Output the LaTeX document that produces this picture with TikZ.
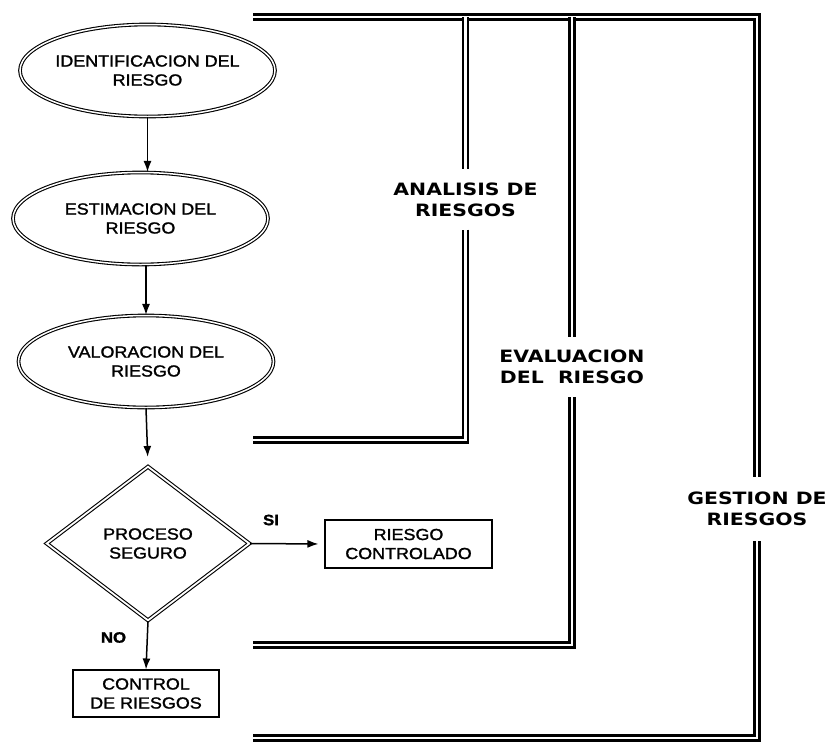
\documentclass[tikz,border=0pt]{standalone}
\usepackage{fontspec}
\setmainfont{Liberation Sans}[FakeStretch=1.12,FakeBold=1.5]
\newfontfamily\labelfont{DejaVu Sans}[FakeStretch=1.2]
\usetikzlibrary{arrows.meta,shapes.geometric}

\begin{document}
\begin{tikzpicture}[x=1pt,y=1pt]
    \tikzstyle{base}=[font=\fontsize{16}{19}\selectfont, align=center, text=black]
    \tikzstyle{oval}=[style=base, draw, ellipse, double, double distance=1.5pt, line width=1.1pt, minimum width=255pt, minimum height=92pt, inner xsep=-10pt, inner ysep=0pt]
    \tikzstyle{choice}=[style=base, draw, diamond, double, double distance=1.8pt, line width=1.1pt, minimum width=203pt, minimum height=154pt, inner sep=0pt]
    \tikzstyle{rectbox}=[style=base, draw, rectangle, line width=1.1pt, inner sep=0pt]
    \tikzstyle{answer}=[font=\fontsize{15}{18}\selectfont\bfseries]
    \tikzstyle{flow}=[draw, line width=1.5pt, -{Latex[length=11pt,width=8pt]}]
    \tikzstyle{phase}=[font=\labelfont\bfseries\fontsize{17}{21}\selectfont, align=center, inner xsep=0pt, inner ysep=13pt]
    \tikzstyle{phasebar}=[draw, double, double distance=2.2pt, line width=2.6pt]

    \useasboundingbox (0,0) rectangle (830,-742);

    % flujo
    \node[oval] (ident) at (147.5,-70.5) {IDENTIFICACION DEL\\RIESGO};
    \node[oval] (estim) at (140.5,-218.5) {ESTIMACION DEL\\RIESGO};
    \node[oval] (valor) at (146,-361.5)  {VALORACION DEL\\RIESGO};
    \node[choice] (proc) at (148,-543.5) {PROCESO\\SEGURO};
    \node[rectbox, minimum width=167pt, minimum height=48pt] (contr) at (408.5,-544) {RIESGO\\CONTROLADO};
    \node[rectbox, minimum width=146pt, minimum height=47pt] (ctrl) at (146,-693.5) {CONTROL\\DE RIESGOS};
    \node[answer] (si) at (271,-520) {SI};
    \node[answer] (no) at (113.5,-637.5) {NO};

    \draw[flow] (ident.south) -- (ident.south |- estim.north);
    \draw[flow] (valor.north |- estim.south) -- (valor.north);
    \draw[flow, shorten >=9pt] (valor.south) -- (proc.north);
    \draw[flow, shorten >=6pt] (proc.east) -- (contr.west);
    \draw[flow] (proc.south) -- (ctrl.north);

    % fases
    \node[phase] (anal) at (465.5,-199.5) {ANALISIS DE\\RIESGOS};
    \node[phase] (eval) at (572,-367)     {EVALUACION\\DEL~ RIESGO};
    \node[phase, inner ysep=15pt] (gest) at (757,-509) {GESTION DE\\RIESGOS};

    \coordinate (top0) at (253,-17);
    \coordinate (top1) at (465.5,-17);
    \coordinate (top2) at (572,-17);
    \coordinate (top3) at (757,-17);
    \coordinate (bot1) at (465.5,-440);
    \coordinate (bot2) at (572,-645);
    \coordinate (bot3) at (757,-738);
    \coordinate (end1) at (253,-440);
    \coordinate (end2) at (253,-645);
    \coordinate (end3) at (253,-738);

    \draw[phasebar] (top0) -- (top3) -- (gest.north);
    \draw[phasebar] (gest.south) -- (bot3) -- (end3);
    \draw[phasebar] (top1) -- (anal.north);
    \draw[phasebar] (anal.south) -- (bot1) -- (end1);
    \draw[phasebar] (top2) -- (eval.north);
    \draw[phasebar] (eval.south) -- (bot2) -- (end2);
\end{tikzpicture}
\end{document}
